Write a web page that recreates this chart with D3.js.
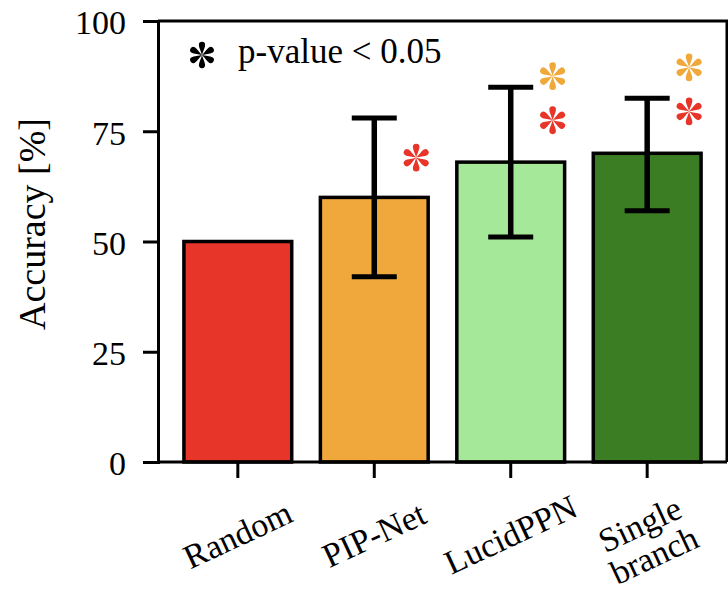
<!DOCTYPE html>
<html>
<head>
<meta charset="utf-8">
<script src="https://cdn.jsdelivr.net/npm/d3@7"></script>
<style>
  body { margin: 0; background: #fff; }
  svg { display: block; font-family: "Liberation Serif", "Times New Roman", serif; }
</style>
</head>
<body>
<div id="container"></div>
<script>
// data
let categories = ["Random", "PIP-Net", "LucidPPN", "Single branch"];
let tickLabels = [["Random"], ["PIP-Net"], ["LucidPPN"], ["Single", "branch"]];
let accuracy = [50, 60, 68, 70];
let errLow = [null, 42, 51, 57];
let errHigh = [null, 78, 85, 82.5];
let barColors = ["#e8352a", "#f0a73c", "#a6e89a", "#3a7d22"];
let yTicks = [0, 25, 50, 75, 100];
// significance markers: level in % where the star sits
let sigVsRandom = [null, 69, 77.5, 79.5];
let sigVsPipNet = [null, null, 87.5, 89.5];
let red = "#e8352a";
let orange = "#f0a83a";

let w = 728;
let h = 592;
let plotLeft = 158, plotRight = 727, plotTop = 21, plotBottom = 462;

let viz = d3.select("#container")
  .append("svg")
    .attr("width", w)
    .attr("height", h)
;

let xScale = d3.scaleBand()
    .domain(categories)
    .range([plotLeft, plotRight])
    .paddingInner(0.21)
    .paddingOuter(0.19)
;
let yScale = d3.scaleLinear().domain([0, 100]).range([plotBottom, plotTop]);

// bars
let bars = viz.append("g").classed("bars", true);
bars.selectAll("rect").data(categories).enter()
  .append("rect")
    .attr("x", function(d){ return xScale(d); })
    .attr("width", xScale.bandwidth())
    .attr("y", function(d, i){ return yScale(accuracy[i]); })
    .attr("height", function(d, i){ return yScale(0) - yScale(accuracy[i]); })
    .attr("fill", function(d, i){ return barColors[i]; })
    .attr("stroke", "black")
    .attr("stroke-width", 3.5)
;

// error bars
let errData = categories.map(function(d, i){ return {c: d, lo: errLow[i], hi: errHigh[i]}; })
  .filter(function(d){ return d.lo != null; });
let errGroup = viz.append("g").classed("errors", true);
let capW = 45;
errData.forEach(function(d){
  let cx = xScale(d.c) + xScale.bandwidth() / 2;
  errGroup.append("line")
    .attr("x1", cx).attr("x2", cx)
    .attr("y1", yScale(d.lo)).attr("y2", yScale(d.hi))
    .attr("stroke", "black").attr("stroke-width", 5.5);
  [d.lo, d.hi].forEach(function(v){
    errGroup.append("line")
      .attr("x1", cx - capW / 2).attr("x2", cx + capW / 2)
      .attr("y1", yScale(v)).attr("y2", yScale(v))
      .attr("stroke", "black").attr("stroke-width", 5);
  });
});

// asterisk made of 6 thin teardrop petals
function star(g, x, y, color, s){
  let a = g.append("g").attr("transform", "translate(" + x + "," + y + ") scale(" + s + ")");
  for (let k = 0; k < 6; k++){
    a.append("path")
      .attr("d", "M0,0 C-0.8,-3.5 -3.3,-8 -3.3,-10.6 A3.3,3.3 0 0 1 3.3,-10.6 C3.3,-8 0.8,-3.5 0,0Z")
      .attr("transform", "rotate(" + (k * 60) + ")")
      .attr("fill", color);
  }
}
let sigGroup = viz.append("g").classed("sig", true);
categories.forEach(function(c, i){
  let sx = xScale(c) + xScale.bandwidth() - 12;
  if (sigVsRandom[i] != null) star(sigGroup, sx, yScale(sigVsRandom[i]), red, 1.0);
  if (sigVsPipNet[i] != null) star(sigGroup, sx, yScale(sigVsPipNet[i]), orange, 1.0);
});

// legend
star(viz, 202, 55, "black", 0.95);
viz.append("text")
  .attr("x", 238).attr("y", 63)
  .attr("font-size", 35)
  .attr("fill", "black")
  .text("p-value < 0.05");

// frame (top and right)
viz.append("path")
  .attr("d", "M" + plotLeft + "," + plotTop + "H" + plotRight + "V" + plotBottom)
  .attr("fill", "none").attr("stroke", "black").attr("stroke-width", 3);

// y axis
let yAxis = d3.axisLeft(yScale).tickValues(yTicks).tickSize(15).tickPadding(17);
let yAxisGroup = viz.append("g").attr("transform", "translate(" + plotLeft + ",0)").call(yAxis);
yAxisGroup.select(".domain").attr("stroke-width", 3);
yAxisGroup.selectAll("line").attr("stroke-width", 3);
yAxisGroup.selectAll("text")
  .attr("font-size", 34)
  .attr("font-family", "Liberation Serif, Times New Roman, serif")
  .attr("dy", "0.38em")
  .attr("fill", "black");

// x axis
let xAxis = d3.axisBottom(xScale).tickSize(16).tickFormat("");
let xAxisGroup = viz.append("g").attr("transform", "translate(0," + plotBottom + ")").call(xAxis);
xAxisGroup.select(".domain").attr("d", "M" + plotLeft + ",0H" + plotRight).attr("stroke-width", 3);
xAxisGroup.selectAll("line").attr("stroke-width", 3);

// rotated category labels
let labelGroup = viz.append("g").classed("xlabels", true);
categories.forEach(function(c, i){
  let lines = tickLabels[i];
  let cx = xScale(c) + xScale.bandwidth() / 2;
  let cy = plotBottom + 73 + (lines.length - 1) * 5;
  let t = labelGroup.append("text")
    .attr("transform", "translate(" + cx + "," + cy + ") rotate(-25)")
    .attr("text-anchor", "middle")
    .attr("font-size", 34)
    .attr("fill", "black");
  lines.forEach(function(l, j){
    t.append("tspan")
      .attr("x", 0)
      .attr("y", 0)
      .attr("dy", ((j - (lines.length - 1) / 2) * 1.0 + 0.33) + "em")
      .text(l);
  });
});

// y label
viz.append("text")
  .attr("transform", "translate(45,224) rotate(-90)")
  .attr("text-anchor", "middle")
  .attr("font-size", 38)
  .attr("fill", "black")
  .text("Accuracy [%]");
</script>
</body>
</html>
